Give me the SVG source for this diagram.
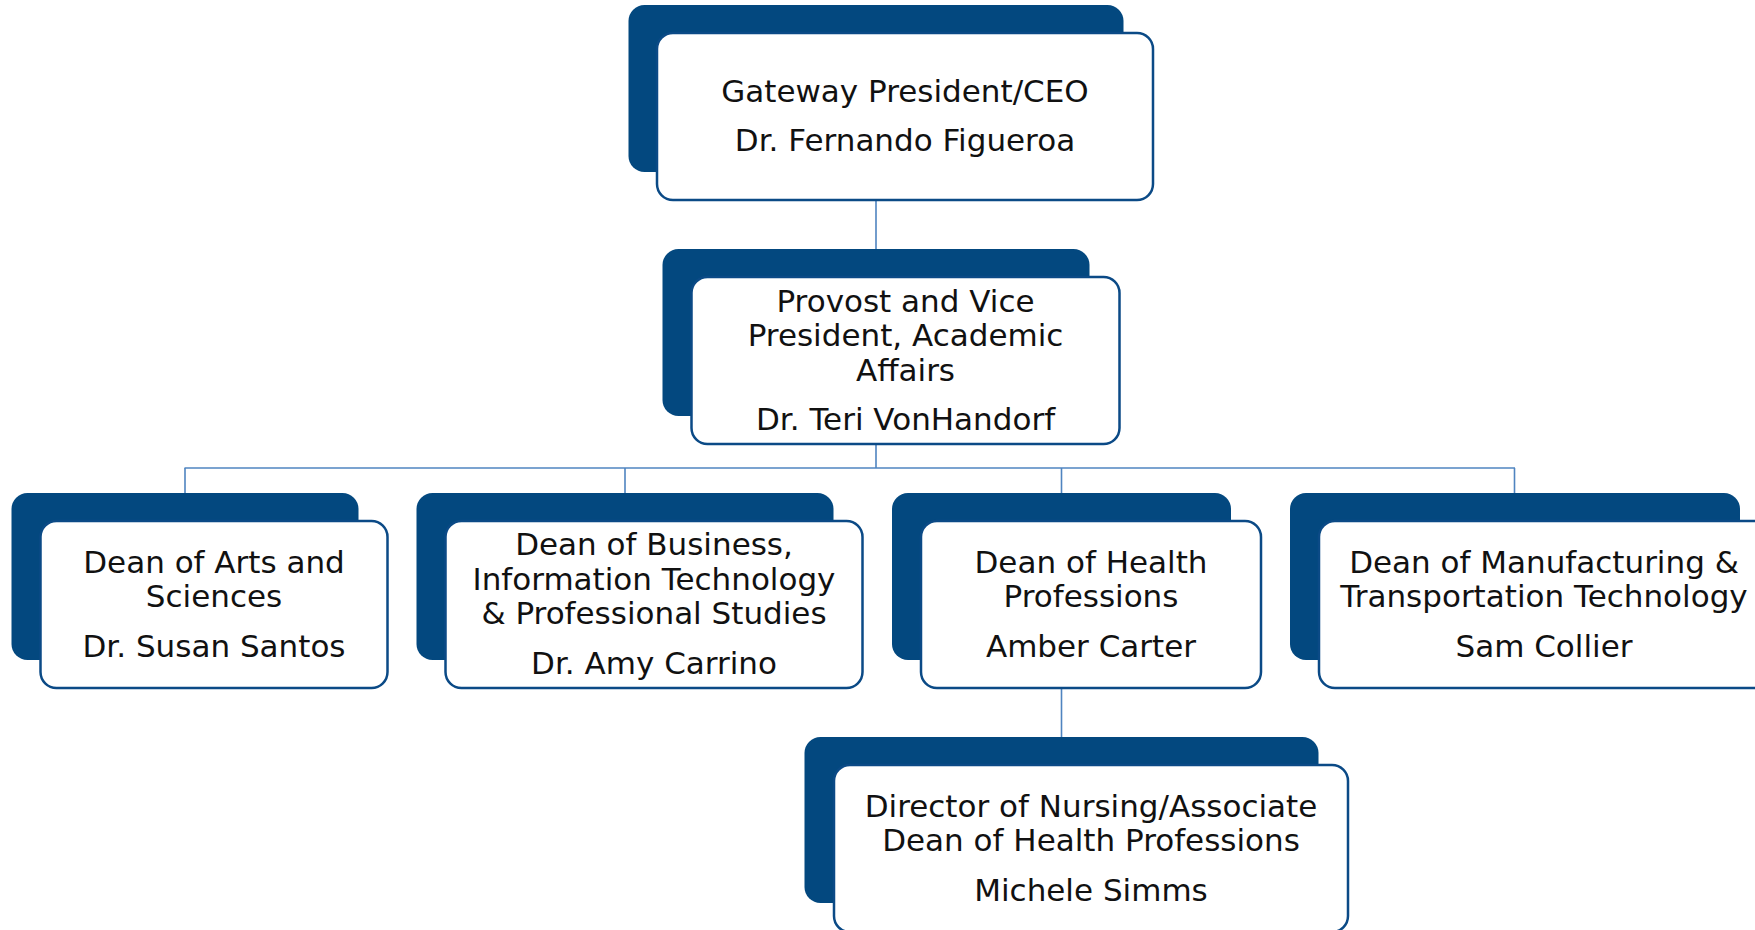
<svg xmlns="http://www.w3.org/2000/svg" width="1755" height="930" viewBox="0 0 1755 930">
<style>
.back{fill:#03487f;}
.front{fill:#ffffff;stroke:#0b4a86;stroke-width:2.5;}
.lbl{font-family:"DejaVu Sans","Liberation Sans",sans-serif;font-size:31px;fill:#111111;text-anchor:middle;}
.conn{stroke:#4f84c0;stroke-width:1.6;fill:none;}
</style>
<rect width="1755" height="930" fill="#ffffff"/>
<g id="connectors">
<line class="conn" x1="876" y1="200" x2="876" y2="249"/>
<line class="conn" x1="876" y1="444" x2="876" y2="468"/>
<line class="conn" x1="184.5" y1="468" x2="1515" y2="468"/>
<line class="conn" x1="185" y1="468" x2="185" y2="493"/>
<line class="conn" x1="625" y1="468" x2="625" y2="493"/>
<line class="conn" x1="1061.5" y1="468" x2="1061.5" y2="493"/>
<line class="conn" x1="1514.5" y1="468" x2="1514.5" y2="493"/>
<line class="conn" x1="1061.5" y1="688" x2="1061.5" y2="737"/>
</g>
<g id="node-president">
<rect class="back" x="628.5" y="5" width="495" height="167" rx="16"/>
<rect class="front" x="657" y="33" width="496" height="167" rx="16"/>
<text class="lbl" x="905" y="101.5">Gateway President/CEO</text>
<text class="lbl" x="905" y="150.5">Dr. Fernando Figueroa</text>
</g>
<g id="node-provost">
<rect class="back" x="662.5" y="249" width="427" height="167" rx="16"/>
<rect class="front" x="691.5" y="277" width="428" height="167" rx="16"/>
<text class="lbl" x="905.5" y="311.5">Provost and Vice</text>
<text class="lbl" x="905.5" y="346">President, Academic</text>
<text class="lbl" x="905.5" y="380.5">Affairs</text>
<text class="lbl" x="905.5" y="430">Dr. Teri VonHandorf</text>
</g>
<g id="node-arts">
<rect class="back" x="11.5" y="493" width="347" height="167" rx="16"/>
<rect class="front" x="40.5" y="521" width="347" height="167" rx="16"/>
<text class="lbl" x="214" y="572.5">Dean of Arts and</text>
<text class="lbl" x="214" y="607">Sciences</text>
<text class="lbl" x="214" y="656.5">Dr. Susan Santos</text>
</g>
<g id="node-business">
<rect class="back" x="416.5" y="493" width="417" height="167" rx="16"/>
<rect class="front" x="445.5" y="521" width="417" height="167" rx="16"/>
<text class="lbl" x="654" y="555">Dean of Business,</text>
<text class="lbl" x="654" y="589.5">Information Technology</text>
<text class="lbl" x="654" y="624">&amp; Professional Studies</text>
<text class="lbl" x="654" y="673.5">Dr. Amy Carrino</text>
</g>
<g id="node-health">
<rect class="back" x="892" y="493" width="339" height="167" rx="16"/>
<rect class="front" x="921" y="521" width="340" height="167" rx="16"/>
<text class="lbl" x="1091" y="572.5">Dean of Health</text>
<text class="lbl" x="1091" y="607">Professions</text>
<text class="lbl" x="1091" y="656.5">Amber Carter</text>
</g>
<g id="node-manufacturing">
<rect class="back" x="1290" y="493" width="450" height="167" rx="16"/>
<rect class="front" x="1319" y="521" width="450" height="167" rx="16"/>
<text class="lbl" x="1544" y="572.5">Dean of Manufacturing &amp;</text>
<text class="lbl" x="1544" y="607">Transportation Technology</text>
<text class="lbl" x="1544" y="656.5">Sam Collier</text>
</g>
<g id="node-nursing">
<rect class="back" x="804.5" y="737" width="514" height="166" rx="16"/>
<rect class="front" x="834" y="765" width="514" height="167" rx="16"/>
<text class="lbl" x="1091" y="816.5">Director of Nursing/Associate</text>
<text class="lbl" x="1091" y="851">Dean of Health Professions</text>
<text class="lbl" x="1091" y="900.5">Michele Simms</text>
</g>
</svg>
